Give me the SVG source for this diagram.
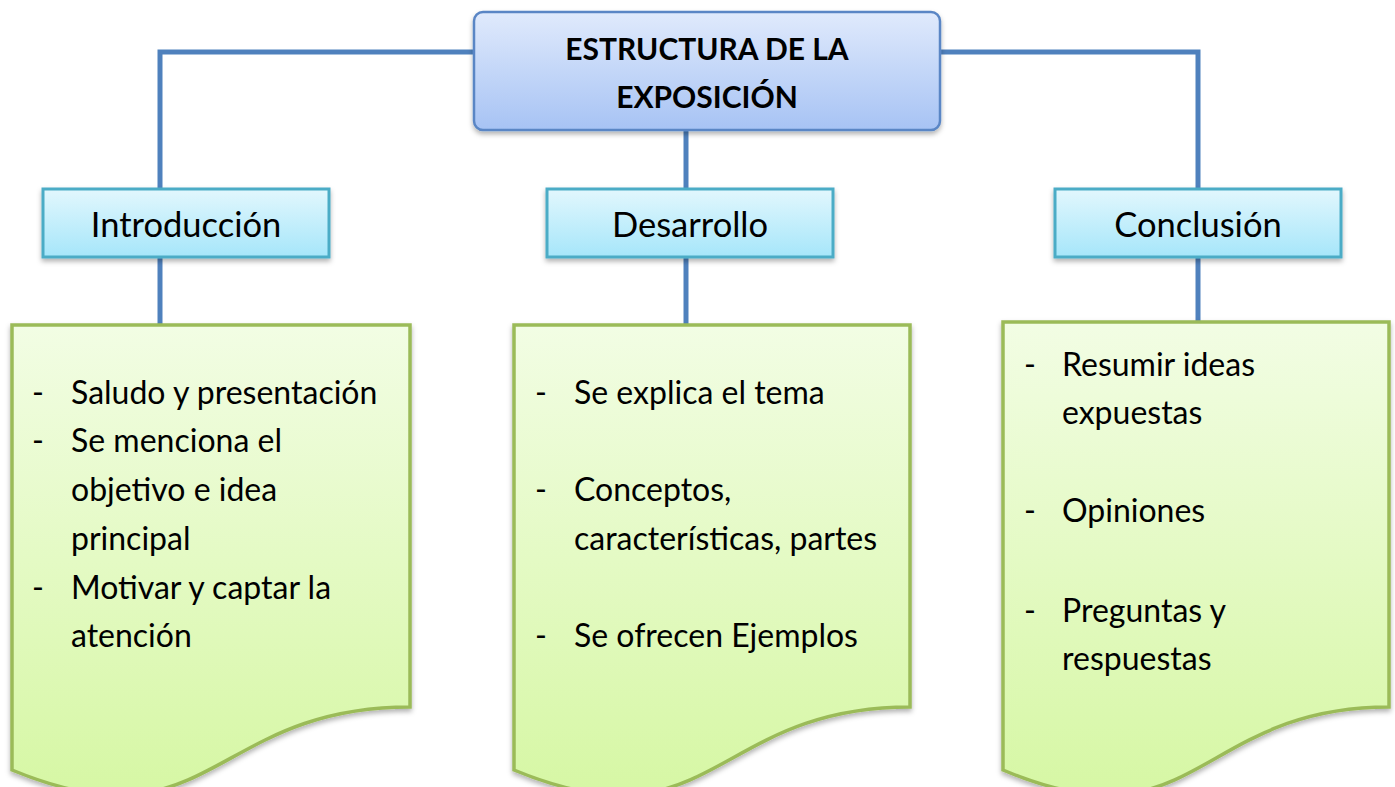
<svg xmlns="http://www.w3.org/2000/svg" width="1395" height="787" viewBox="0 0 1395 787">
<defs>
<linearGradient id="gTop" x1="0" y1="0" x2="0" y2="1"><stop offset="0" stop-color="#e0eafc"/><stop offset="1" stop-color="#a7c3f4"/></linearGradient>
<linearGradient id="gSub" x1="0" y1="0" x2="0" y2="1"><stop offset="0" stop-color="#e2f7fd"/><stop offset="1" stop-color="#a6e6fa"/></linearGradient>
<linearGradient id="gDoc" x1="0" y1="0" x2="0" y2="1"><stop offset="0" stop-color="#f2fde4"/><stop offset="1" stop-color="#d6f7a4"/></linearGradient>
<filter id="sh" x="-10%" y="-10%" width="120%" height="130%"><feDropShadow dx="0" dy="3" stdDeviation="2.5" flood-color="#000" flood-opacity="0.3"/></filter>
</defs>
<style>
.conn{fill:none;stroke:#4f81bd;stroke-width:5}
.top{fill:url(#gTop);stroke:#5a86c5;stroke-width:2.5}
.sub{fill:url(#gSub);stroke:#4bacc6;stroke-width:3}
.doc{fill:url(#gDoc);stroke:#9bbb59;stroke-width:3.5}
.t{font-family:Lato,"Open Sans",sans-serif;fill:#000}
.title{font-size:30px;font-weight:bold;text-anchor:middle}
.lbl{font-size:34.5px;text-anchor:middle}
.body{font-size:32px}
</style>
<rect width="1395" height="787" fill="#fff"/>
<g id="connectors">
<path class="conn" d="M160,188 V52 H474"/>
<path class="conn" d="M940,52 H1198 V188"/>
<path class="conn" d="M686,130 V188"/>
<path class="conn" d="M160,257 V325"/>
<path class="conn" d="M686,257 V325"/>
<path class="conn" d="M1198,257 V322"/>
</g>
<g id="root">
<rect class="top" x="474" y="12" width="466" height="118" rx="9" filter="url(#sh)"/>
<text class="t title" x="707" y="60">ESTRUCTURA DE LA</text>
<text class="t title" x="707" y="108">EXPOSICIÓN</text>
</g>
<g id="intro">
<rect class="sub" x="43" y="189" width="286" height="68" filter="url(#sh)"/>
<text class="t lbl" x="186" y="237">Introducción</text>
</g>
<g id="desarrollo">
<rect class="sub" x="547" y="189" width="286" height="68" filter="url(#sh)"/>
<text class="t lbl" x="690" y="237">Desarrollo</text>
</g>
<g id="conclusion">
<rect class="sub" x="1055" y="189" width="286" height="68" filter="url(#sh)"/>
<text class="t lbl" x="1198" y="237">Conclusión</text>
</g>
<g id="doc-intro">
<path class="doc" d="M12,325 H410 V707 C210,707 210,852 12,770 Z" filter="url(#sh)"/>
<g class="t body">
<text x="32" y="404">-</text><text x="71" y="404">Saludo y presentación</text>
<text x="32" y="452">-</text><text x="71" y="452">Se menciona el</text>
<text x="71" y="501">objetivo e idea</text>
<text x="71" y="550">principal</text>
<text x="32" y="599">-</text><text x="71" y="599">Motivar y captar la</text>
<text x="71" y="647">atención</text>
</g>
</g>
<g id="doc-desarrollo">
<path class="doc" d="M514,325 H910 V707 C712,707 712,852 514,770 Z" filter="url(#sh)"/>
<g class="t body">
<text x="535" y="404">-</text><text x="574" y="404">Se explica el tema</text>
<text x="535" y="501">-</text><text x="574" y="501">Conceptos,</text>
<text x="574" y="550">características, partes</text>
<text x="535" y="647">-</text><text x="574" y="647">Se ofrecen Ejemplos</text>
</g>
</g>
<g id="doc-conclusion">
<path class="doc" d="M1003,322 H1389 V707 C1196,707 1196,852 1003,770 Z" filter="url(#sh)"/>
<g class="t body">
<text x="1024" y="376">-</text><text x="1062" y="376">Resumir ideas</text>
<text x="1062" y="424">expuestas</text>
<text x="1024" y="522">-</text><text x="1062" y="522">Opiniones</text>
<text x="1024" y="622">-</text><text x="1062" y="622">Preguntas y</text>
<text x="1062" y="670">respuestas</text>
</g>
</g>
</svg>
